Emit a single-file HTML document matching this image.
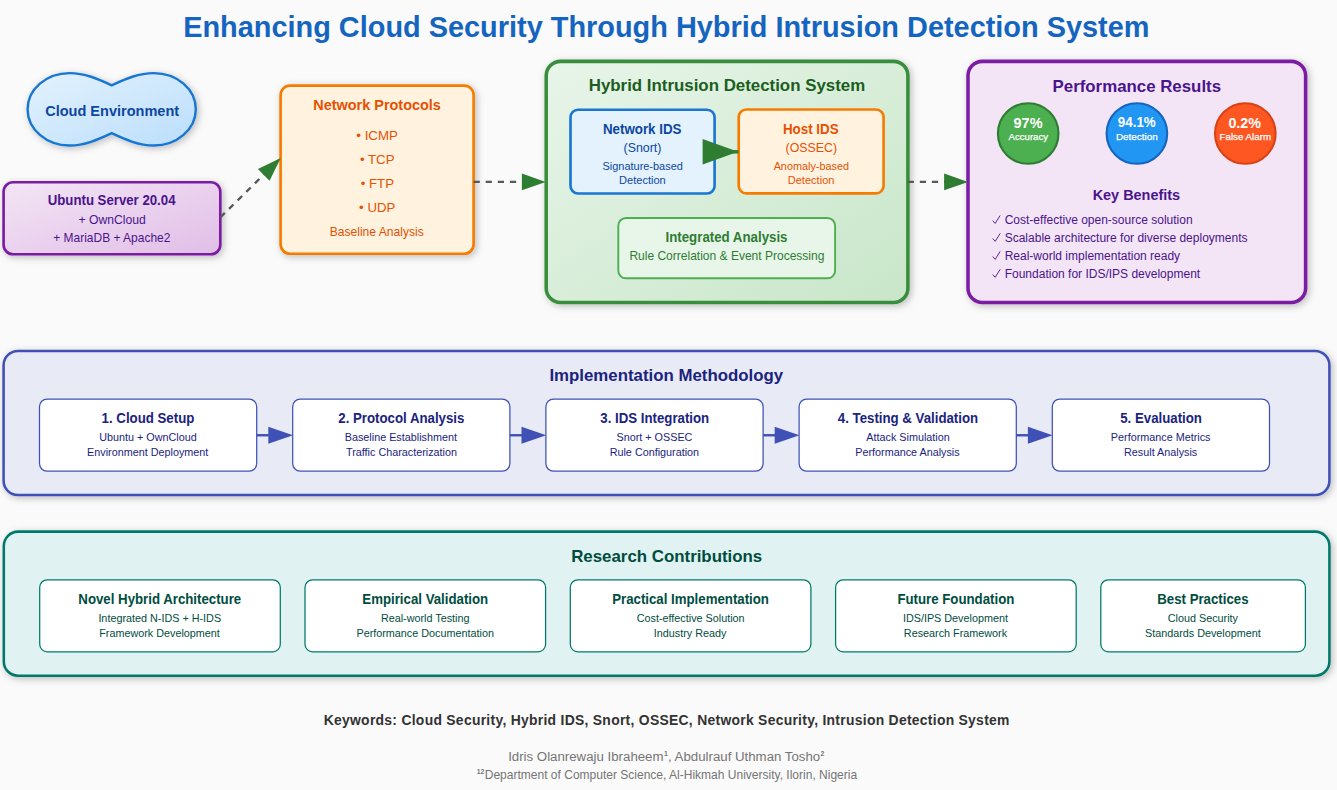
<!DOCTYPE html>
<html><head><meta charset="utf-8"><title>Hybrid IDS</title>
<style>
html,body{margin:0;padding:0;background:#FAFAFA;}
body{width:1337px;height:790px;overflow:hidden;font-family:"Liberation Sans", sans-serif;}
svg{display:block;position:absolute;left:0;top:0;}
svg text{font-family:"Liberation Sans", sans-serif;}
</style></head><body>
<svg width="1337" height="790" viewBox="0 0 1337 790">
<defs>
<linearGradient id="gCloud" x1="0" y1="0" x2="1" y2="1"><stop offset="0" stop-color="#E3F2FD"/><stop offset="1" stop-color="#BBDEFB"/></linearGradient>
<linearGradient id="gUbu" x1="0" y1="0" x2="1" y2="1"><stop offset="0" stop-color="#F3E5F5"/><stop offset="1" stop-color="#E1BEE7"/></linearGradient>
<linearGradient id="gHyb" x1="0" y1="0" x2="1" y2="1"><stop offset="0" stop-color="#E8F5E9"/><stop offset="1" stop-color="#C8E6C9"/></linearGradient>
<filter id="sh" x="-10%" y="-10%" width="125%" height="130%"><feDropShadow dx="1.9" dy="1.9" stdDeviation="3.8" flood-color="#000" flood-opacity="0.25"/></filter>
</defs>
<rect x="0" y="0" width="1337" height="790" fill="#FAFAFA"/>
<!-- cloud -->
<path d="M 111.7,85.3 C 125.7,78.8 138.8,73.1 153.8,73.1 C 177.0,73.1 195.8,89.3 195.8,109.3 C 195.8,129.3 177.0,145.5 153.8,145.5 C 138.8,145.5 125.7,139.8 111.7,133.2 C 97.7,139.8 84.6,145.5 69.6,145.5 C 46.4,145.5 27.6,129.3 27.6,109.3 C 27.6,89.3 46.4,73.1 69.6,73.1 C 84.6,73.1 97.7,78.8 111.7,85.3 Z" fill="url(#gCloud)" stroke="#1976D2" stroke-width="2.4" stroke-linejoin="miter" filter="url(#sh)"/>
<!-- ubuntu -->
<rect x="3.6" y="182.2" width="216.7" height="72.1" rx="9.5" fill="url(#gUbu)" stroke="#7B1FA2" stroke-width="2.65" filter="url(#sh)"/>
<!-- network protocols -->
<rect x="280.6" y="85.6" width="193" height="168.2" rx="9.5" fill="#FFF3E0" stroke="#F57C00" stroke-width="2.65" filter="url(#sh)"/>
<!-- hybrid -->
<rect x="546.2" y="61.35" width="361.7" height="241.1" rx="14.3" fill="url(#gHyb)" stroke="#388E3C" stroke-width="3.55" filter="url(#sh)"/>
<rect x="570.5" y="109.7" width="144.1" height="83.8" rx="7.6" fill="#E3F2FD" stroke="#1976D2" stroke-width="2.65"/>
<rect x="738.7" y="109.5" width="144.9" height="83.9" rx="7.6" fill="#FFF3E0" stroke="#F57C00" stroke-width="2.65"/>
<rect x="618.3" y="218" width="216.8" height="60.3" rx="7.6" fill="#E8F5E9" stroke="#4CAF50" stroke-width="1.9"/>
<!-- performance -->
<rect x="968" y="61.35" width="337.6" height="241.2" rx="14.3" fill="#F3E5F5" stroke="#7B1FA2" stroke-width="3.55" filter="url(#sh)"/>
<circle cx="1028.2" cy="133.5" r="30.3" fill="#4CAF50" stroke="#2E7D32" stroke-width="2.1"/>
<circle cx="1136.9" cy="133.5" r="30.3" fill="#2196F3" stroke="#1565C0" stroke-width="2.1"/>
<circle cx="1245.3" cy="133.5" r="30.3" fill="#FF5722" stroke="#D84315" stroke-width="2.1"/>
<!-- check marks -->
<g fill="none" stroke="#4A148C" stroke-width="0.9" stroke-linecap="butt" stroke-linejoin="miter">
<path d="M 992.70,220.60 L 995.20,223.40 L 1000.20,215.40"/>
<path d="M 992.70,238.57 L 995.20,241.37 L 1000.20,233.37"/>
<path d="M 992.70,256.54 L 995.20,259.34 L 1000.20,251.34"/>
<path d="M 992.70,274.51 L 995.20,277.31 L 1000.20,269.31"/>
</g>
<!-- arrows top -->
<g stroke="#585858" stroke-width="2.35" stroke-dasharray="6.2 5.9" fill="none">
<line x1="220.4" y1="217.3" x2="279" y2="159.7"/>
<line x1="473.6" y1="181.9" x2="540" y2="181.9"/>
<line x1="907.7" y1="181.9" x2="962" y2="181.9"/>
</g>
<g fill="#2E7D32">
<polygon points="280.8,157.9 257.9,168.9 269.5,180.7"/>
<polygon points="545.7,181.9 521.9,173.55 521.9,190.25"/>
<polygon points="968.1,181.9 944.1,173.55 944.1,190.25"/>
<rect x="714.6" y="150.1" width="23.9" height="3.4"/>
<polygon points="738.1,151.8 702.65,139.1 702.65,164.5"/>
</g>
<!-- implementation -->
<rect x="3.6" y="350.9" width="1325.8" height="144.1" rx="14.3" fill="#E8EAF6" stroke="#3F51B5" stroke-width="2.55" filter="url(#sh)"/>
<g fill="#fff" stroke="#3F51B5" stroke-width="1.25">
<rect x="39.5" y="399" width="217.2" height="72.2" rx="7.6"/>
<rect x="292.7" y="399" width="217.2" height="72.2" rx="7.6"/>
<rect x="545.9" y="399" width="217.2" height="72.2" rx="7.6"/>
<rect x="799.1" y="399" width="217.2" height="72.2" rx="7.6"/>
<rect x="1052.3" y="399" width="217.2" height="72.2" rx="7.6"/>
</g>
<g stroke="#3F51B5" stroke-width="2.4" fill="#3F51B5">
<line x1="256.7" y1="435.25" x2="273.3" y2="435.25"/><polygon stroke="none" points="293.0,435.25 268.3,426.80 268.3,443.70"/>
<line x1="509.9" y1="435.25" x2="526.5" y2="435.25"/><polygon stroke="none" points="546.2,435.25 521.5,426.80 521.5,443.70"/>
<line x1="763.1" y1="435.25" x2="779.7" y2="435.25"/><polygon stroke="none" points="799.4,435.25 774.7,426.80 774.7,443.70"/>
<line x1="1016.3" y1="435.25" x2="1032.9" y2="435.25"/><polygon stroke="none" points="1052.6,435.25 1027.9,426.80 1027.9,443.70"/>
</g>
<!-- research -->
<rect x="3.8" y="531.6" width="1325.6" height="144.1" rx="14.3" fill="#E0F2F1" stroke="#00796B" stroke-width="2.55" filter="url(#sh)"/>
<g fill="#fff" stroke="#00796B" stroke-width="1.25">
<rect x="39.7" y="579.8" width="240.6" height="72.1" rx="7.6"/>
<rect x="305" y="579.8" width="240.6" height="72.1" rx="7.6"/>
<rect x="570.3" y="579.8" width="240.6" height="72.1" rx="7.6"/>
<rect x="835.6" y="579.8" width="240.6" height="72.1" rx="7.6"/>
<rect x="1100.8" y="579.8" width="204.6" height="72.1" rx="7.6"/>
</g>

<g>
<text x="666.32" y="36.70" font-size="28.90" font-weight="bold" fill="#1565C0" text-anchor="middle">Enhancing Cloud Security Through Hybrid Intrusion Detection System</text>
<text x="112.17" y="115.60" font-size="14.52" font-weight="bold" fill="#0D47A1" text-anchor="middle">Cloud Environment</text>
<text x="111.61" y="205.50" font-size="13.23" font-weight="bold" fill="#4A148C" text-anchor="middle" transform="matrix(1 0 0 1.08 0 -16.440)">Ubuntu Server 20.04</text>
<text x="112.10" y="223.50" font-size="12.17" font-weight="normal" fill="#4A148C" text-anchor="middle">+ OwnCloud</text>
<text x="111.81" y="241.80" font-size="11.97" font-weight="normal" fill="#4A148C" text-anchor="middle">+ MariaDB + Apache2</text>
<text x="377.09" y="109.90" font-size="14.44" font-weight="bold" fill="#E65100" text-anchor="middle">Network Protocols</text>
<text x="377.11" y="140.00" font-size="13.32" font-weight="normal" fill="#E65100" text-anchor="middle">• ICMP</text>
<text x="377.21" y="164.00" font-size="13.26" font-weight="normal" fill="#E65100" text-anchor="middle">• TCP</text>
<text x="377.31" y="187.60" font-size="13.25" font-weight="normal" fill="#E65100" text-anchor="middle">• FTP</text>
<text x="377.21" y="211.60" font-size="13.23" font-weight="normal" fill="#E65100" text-anchor="middle">• UDP</text>
<text x="376.73" y="235.70" font-size="12.08" font-weight="normal" fill="#E65100" text-anchor="middle">Baseline Analysis</text>
<text x="726.95" y="90.90" font-size="16.86" font-weight="bold" fill="#1B5E20" text-anchor="middle">Hybrid Intrusion Detection System</text>
<text x="642.21" y="133.60" font-size="13.35" font-weight="bold" fill="#0D47A1" text-anchor="middle" transform="matrix(1 0 0 1.08 0 -10.688)">Network IDS</text>
<text x="642.49" y="152.30" font-size="12.42" font-weight="normal" fill="#0D47A1" text-anchor="middle">(Snort)</text>
<text x="642.69" y="170.00" font-size="10.95" font-weight="normal" fill="#0D47A1" text-anchor="middle">Signature-based</text>
<text x="642.40" y="184.10" font-size="11.04" font-weight="normal" fill="#0D47A1" text-anchor="middle">Detection</text>
<text x="810.81" y="133.70" font-size="13.41" font-weight="bold" fill="#E65100" text-anchor="middle" transform="matrix(1 0 0 1.08 0 -10.696)">Host IDS</text>
<text x="811.39" y="152.00" font-size="12.40" font-weight="normal" fill="#E65100" text-anchor="middle">(OSSEC)</text>
<text x="811.33" y="170.00" font-size="10.85" font-weight="normal" fill="#E65100" text-anchor="middle">Anomaly-based</text>
<text x="811.10" y="183.80" font-size="11.07" font-weight="normal" fill="#E65100" text-anchor="middle">Detection</text>
<text x="726.51" y="241.90" font-size="13.28" font-weight="bold" fill="#2E7D32" text-anchor="middle" transform="matrix(1 0 0 1.08 0 -19.352)">Integrated Analysis</text>
<text x="726.89" y="259.80" font-size="12.03" font-weight="normal" fill="#2E7D32" text-anchor="middle">Rule Correlation &amp; Event Processing</text>
<text x="1136.81" y="91.60" font-size="16.85" font-weight="bold" fill="#4A148C" text-anchor="middle">Performance Results</text>
<text x="1028.06" y="127.50" font-size="14.48" font-weight="bold" fill="#fff" text-anchor="middle">97%</text>
<text x="1028.30" y="139.80" font-size="9.61" font-weight="normal" fill="#fff" text-anchor="middle" stroke="#fff" stroke-width="0.25">Accuracy</text>
<text x="1136.76" y="127.50" font-size="13.34" font-weight="bold" fill="#fff" text-anchor="middle" transform="matrix(1 0 0 1.08 0 -10.200)">94.1%</text>
<text x="1136.81" y="139.80" font-size="9.89" font-weight="normal" fill="#fff" text-anchor="middle" stroke="#fff" stroke-width="0.25">Detection</text>
<text x="1244.72" y="127.50" font-size="14.32" font-weight="bold" fill="#fff" text-anchor="middle">0.2%</text>
<text x="1245.32" y="139.80" font-size="9.79" font-weight="normal" fill="#fff" text-anchor="middle" stroke="#fff" stroke-width="0.25">False Alarm</text>
<text x="1136.39" y="199.70" font-size="14.45" font-weight="bold" fill="#4A148C" text-anchor="middle">Key Benefits</text>
<text x="1004.70" y="223.75" font-size="12.00" font-weight="normal" fill="#4A148C" text-anchor="start">Cost-effective open-source solution</text>
<text x="1004.70" y="241.72" font-size="12.00" font-weight="normal" fill="#4A148C" text-anchor="start">Scalable architecture for diverse deployments</text>
<text x="1004.70" y="259.69" font-size="12.00" font-weight="normal" fill="#4A148C" text-anchor="start">Real-world implementation ready</text>
<text x="1004.70" y="277.66" font-size="12.00" font-weight="normal" fill="#4A148C" text-anchor="start">Foundation for IDS/IPS development</text>
<text x="666.26" y="381.20" font-size="16.83" font-weight="bold" fill="#1A237E" text-anchor="middle">Implementation Methodology</text>
<text x="147.97" y="423.00" font-size="13.25" font-weight="bold" fill="#1A237E" text-anchor="middle" transform="matrix(1 0 0 1.08 0 -33.840)">1. Cloud Setup</text>
<text x="148.03" y="441.00" font-size="10.80" font-weight="normal" fill="#1A237E" text-anchor="middle">Ubuntu + OwnCloud</text>
<text x="147.68" y="455.60" font-size="10.80" font-weight="normal" fill="#1A237E" text-anchor="middle">Environment Deployment</text>
<text x="401.34" y="423.00" font-size="13.25" font-weight="bold" fill="#1A237E" text-anchor="middle" transform="matrix(1 0 0 1.08 0 -33.840)">2. Protocol Analysis</text>
<text x="400.88" y="441.00" font-size="10.80" font-weight="normal" fill="#1A237E" text-anchor="middle">Baseline Establishment</text>
<text x="401.52" y="455.60" font-size="10.80" font-weight="normal" fill="#1A237E" text-anchor="middle">Traffic Characterization</text>
<text x="654.77" y="423.00" font-size="13.25" font-weight="bold" fill="#1A237E" text-anchor="middle" transform="matrix(1 0 0 1.08 0 -33.840)">3. IDS Integration</text>
<text x="654.46" y="441.00" font-size="10.80" font-weight="normal" fill="#1A237E" text-anchor="middle">Snort + OSSEC</text>
<text x="654.40" y="455.60" font-size="10.80" font-weight="normal" fill="#1A237E" text-anchor="middle">Rule Configuration</text>
<text x="908.00" y="423.00" font-size="13.25" font-weight="bold" fill="#1A237E" text-anchor="middle" transform="matrix(1 0 0 1.08 0 -33.840)">4. Testing &amp; Validation</text>
<text x="908.03" y="441.00" font-size="10.80" font-weight="normal" fill="#1A237E" text-anchor="middle">Attack Simulation</text>
<text x="907.46" y="455.60" font-size="10.80" font-weight="normal" fill="#1A237E" text-anchor="middle">Performance Analysis</text>
<text x="1161.10" y="423.00" font-size="13.25" font-weight="bold" fill="#1A237E" text-anchor="middle" transform="matrix(1 0 0 1.08 0 -33.840)">5. Evaluation</text>
<text x="1160.66" y="441.00" font-size="10.80" font-weight="normal" fill="#1A237E" text-anchor="middle">Performance Metrics</text>
<text x="1160.66" y="455.60" font-size="10.80" font-weight="normal" fill="#1A237E" text-anchor="middle">Result Analysis</text>
<text x="666.71" y="561.90" font-size="16.88" font-weight="bold" fill="#004D40" text-anchor="middle">Research Contributions</text>
<text x="159.78" y="603.80" font-size="13.25" font-weight="bold" fill="#004D40" text-anchor="middle" transform="matrix(1 0 0 1.08 0 -48.304)">Novel Hybrid Architecture</text>
<text x="159.74" y="622.20" font-size="10.80" font-weight="normal" fill="#004D40" text-anchor="middle">Integrated N-IDS + H-IDS</text>
<text x="159.58" y="636.80" font-size="10.80" font-weight="normal" fill="#004D40" text-anchor="middle">Framework Development</text>
<text x="425.27" y="603.80" font-size="13.25" font-weight="bold" fill="#004D40" text-anchor="middle" transform="matrix(1 0 0 1.08 0 -48.304)">Empirical Validation</text>
<text x="425.20" y="622.20" font-size="10.80" font-weight="normal" fill="#004D40" text-anchor="middle">Real-world Testing</text>
<text x="425.20" y="636.80" font-size="10.80" font-weight="normal" fill="#004D40" text-anchor="middle">Performance Documentation</text>
<text x="690.57" y="603.80" font-size="13.25" font-weight="bold" fill="#004D40" text-anchor="middle" transform="matrix(1 0 0 1.08 0 -48.304)">Practical Implementation</text>
<text x="690.66" y="622.20" font-size="10.80" font-weight="normal" fill="#004D40" text-anchor="middle">Cost-effective Solution</text>
<text x="690.11" y="636.80" font-size="10.80" font-weight="normal" fill="#004D40" text-anchor="middle">Industry Ready</text>
<text x="955.87" y="603.80" font-size="13.25" font-weight="bold" fill="#004D40" text-anchor="middle" transform="matrix(1 0 0 1.08 0 -48.304)">Future Foundation</text>
<text x="955.43" y="622.20" font-size="10.80" font-weight="normal" fill="#004D40" text-anchor="middle">IDS/IPS Development</text>
<text x="955.44" y="636.80" font-size="10.80" font-weight="normal" fill="#004D40" text-anchor="middle">Research Framework</text>
<text x="1202.91" y="603.80" font-size="13.25" font-weight="bold" fill="#004D40" text-anchor="middle" transform="matrix(1 0 0 1.08 0 -48.304)">Best Practices</text>
<text x="1202.83" y="622.20" font-size="10.80" font-weight="normal" fill="#004D40" text-anchor="middle">Cloud Security</text>
<text x="1202.87" y="636.80" font-size="10.80" font-weight="normal" fill="#004D40" text-anchor="middle">Standards Development</text>
<text x="666.70" y="724.50" font-size="13.90" font-weight="bold" fill="#333" text-anchor="middle" letter-spacing="0.285">Keywords: Cloud Security, Hybrid IDS, Snort, OSSEC, Network Security, Intrusion Detection System</text>
<text x="666.27" y="760.60" font-size="13.26" font-weight="normal" fill="#757575" text-anchor="middle">Idris Olanrewaju Ibraheem<tspan font-size="6.8" font-weight="bold" dy="-4.9" dx="0.4">1</tspan><tspan dy="4.9" dx="0.25">, Abdulrauf Uthman Tosho</tspan><tspan font-size="6.8" font-weight="bold" dy="-4.9" dx="0.4">2</tspan></text>
<text x="666.52" y="778.90" font-size="12.02" font-weight="normal" fill="#757575" text-anchor="middle"><tspan font-size="6.8" font-weight="bold" dy="-4.9" dx="0.4">12</tspan><tspan dy="4.9" dx="0.50">Department of Computer Science, Al-Hikmah University, Ilorin, Nigeria</tspan></text>
</g>
</svg>
</body></html>
